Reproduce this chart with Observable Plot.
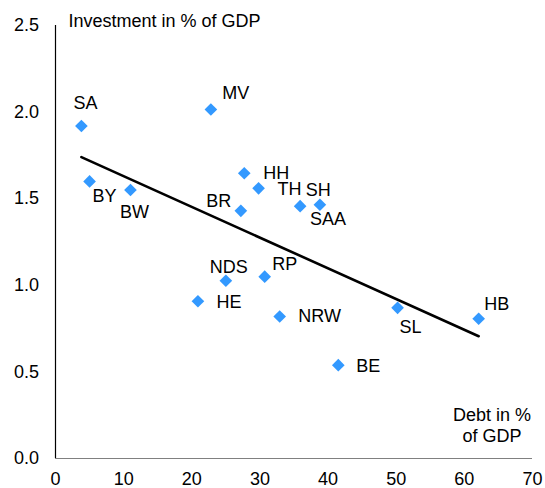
<!DOCTYPE html>
<html>
<head>
<meta charset="utf-8">
<script src="https://cdn.jsdelivr.net/npm/d3@7"></script>
<script src="https://cdn.jsdelivr.net/npm/@observablehq/plot@0.6"></script>
<style>
  html, body { margin: 0; padding: 0; background: #fff; }
</style>
</head>
<body>
<div id="chart"></div>
<script>
// Data
const states = ["SA", "BY", "BW", "MV", "HH", "TH", "SH", "SAA", "BR", "NDS", "RP", "HE", "NRW", "BE", "SL", "HB"];
const debt = [3.8, 5.0, 11.0, 22.8, 27.7, 29.8, 35.9, 38.8, 27.2, 25.0, 30.7, 20.9, 32.9, 41.5, 50.2, 62.1];
const investment = [1.92, 1.60, 1.55, 2.015, 1.647, 1.56, 1.457, 1.465, 1.43, 1.026, 1.05, 0.908, 0.82, 0.539, 0.87, 0.807];
const xTicks = [0, 10, 20, 30, 40, 50, 60, 70];
const yTicks = [0, 0.5, 1.0, 1.5, 2.0, 2.5];
const yTitle = "Investment in % of GDP";
const xTitle = "Debt in %\nof GDP";

// Label placement (layout only)
const labelOffset = {
  SA: [4, -23], BY: [15, 15], BW: [4, 22], MV: [25, -16], HH: [32, 0],
  TH: [31, 1], SH: [18, -16], SAA: [8, 14], BR: [-22, -10], NDS: [3, -14],
  RP: [20, -12], HE: [31, 1], NRW: [40, 0], BE: [30, 1], SL: [13, 19], HB: [18, -14]
};

const data = states.map((s, i) => ({ state: s, debt: debt[i], inv: investment[i] }));

const labelMarks = data.map(d => Plot.text([d], {
  x: "debt", y: "inv", text: "state",
  dx: labelOffset[d.state][0], dy: labelOffset[d.state][1],
  fill: "#000"
}));

const chart = Plot.plot({
  width: 545,
  height: 488,
  marginLeft: 55,
  marginRight: 13,
  marginTop: 25,
  marginBottom: 30,
  style: { fontFamily: "'Liberation Sans', Arial, sans-serif", fontSize: "18px", background: "#fff", color: "#000" },
  x: { domain: [0, 70] },
  y: { domain: [0, 2.5] },
  marks: [
    Plot.axisX({ ticks: xTicks, tickSize: 0, tickPadding: 14, label: null, tickFormat: d => String(d) }),
    Plot.axisY({ ticks: yTicks, tickSize: 0, tickPadding: 16.5, label: null, tickFormat: d3.format(".1f") }),
    Plot.ruleY([0], { stroke: "#808080", strokeWidth: 1.2 }),
    Plot.ruleX([0], { stroke: "#000", strokeWidth: 1.2 }),
    Plot.linearRegressionY(data, { x: "debt", y: "inv", ci: 0, stroke: "#000", strokeWidth: 2.6 }),
    Plot.dot(data, { x: "debt", y: "inv", symbol: "diamond2", r: 5.7, fill: "#3399ff", stroke: "none" }),
    ...labelMarks,
    Plot.text([yTitle], { frameAnchor: "top-left", dx: 13, dy: -4, textAnchor: "start", lineAnchor: "middle", fill: "#000" }),
    Plot.text([xTitle], { frameAnchor: "bottom-right", dx: -40.5, dy: -33.5, textAnchor: "middle", lineAnchor: "middle", lineHeight: 1.15, fill: "#000" })
  ]
});
document.getElementById("chart").appendChild(chart);
</script>
</body>
</html>
